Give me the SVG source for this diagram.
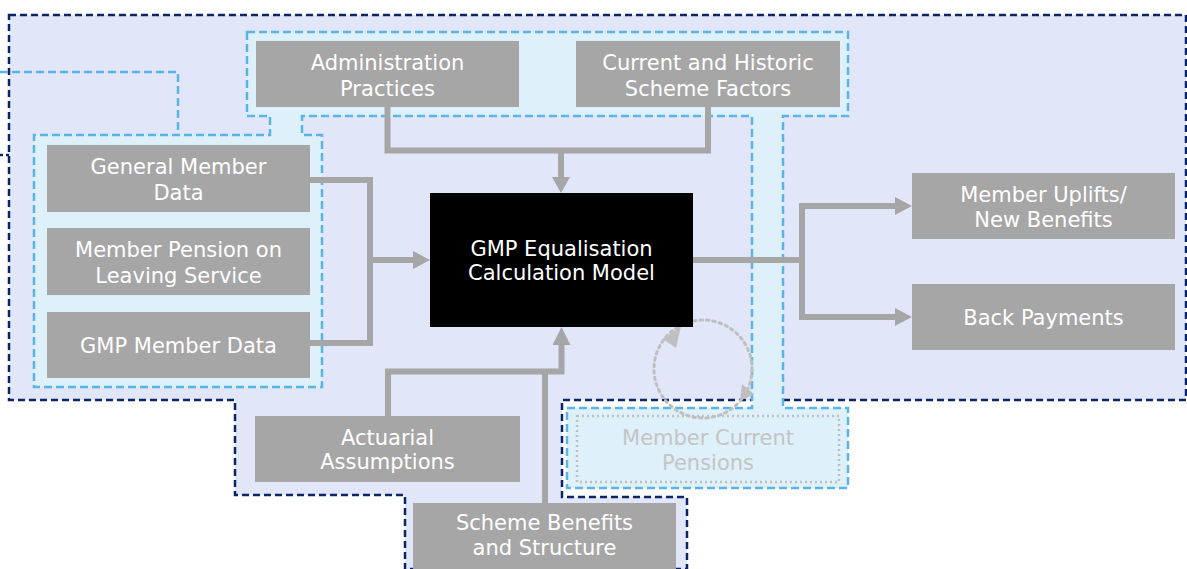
<svg xmlns="http://www.w3.org/2000/svg" width="1187" height="569" viewBox="0 0 1187 569">
<style>
.outer{fill:#e1e7f8;stroke:#0b2466;stroke-width:2.5;stroke-dasharray:7 4}
.inner{fill:#def0fa;stroke:#5bb4e8;stroke-width:2.5;stroke-dasharray:8 4}
.dark{fill:none;stroke:#0b2466;stroke-width:2.5;stroke-dasharray:3 3}
.ldash{fill:none;stroke:#5bb4e8;stroke-width:2.5;stroke-dasharray:8 4}
.box{fill:#a6a6a6}
.t{font-family:"DejaVu Sans",Verdana,sans-serif;font-size:21px;fill:#ffffff;text-anchor:middle}
.tb{font-family:"DejaVu Sans",Verdana,sans-serif;font-size:21px;fill:#ffffff;text-anchor:middle}
.tg{font-family:"DejaVu Sans",Verdana,sans-serif;font-size:21px;fill:#c4c4c4;text-anchor:middle}
.c{fill:none;stroke:#a6a6a6;stroke-width:6}
.ah{fill:#a6a6a6}
.dot{fill:none;stroke:#bfbfbf;stroke-width:3;stroke-dasharray:2.5 4;stroke-linecap:round}
.ahl{fill:#bfbfbf}
</style>
<rect width="1187" height="569" fill="#ffffff"/>
<g id="regions">
<polygon class="outer" points="9,15 1186,15 1186,400 562,400 562,497 687,497 687,569 405,569 405,495 235,495 235,400 9,400"/>
<polygon class="inner" points="247,32 848,32 848,116 783,116 783,408 848,408 848,488 567,488 567,408 752,408 752,116 302,116 302,135 322,135 322,387 34,387 34,135 270,135 270,116 247,116"/>
<polyline class="ldash" points="0,72 178,72 178,135"/>
<polyline class="dark" points="0,155 9,155"/>
</g>
<g id="connectors">
<polyline class="c" points="387.5,107 387.5,150.5 708,150.5 708,107"/>
<line class="c" x1="561" y1="150.5" x2="561" y2="178"/>
<polygon class="ah" points="552,177 570,177 561,193"/>
<polyline class="c" points="310,180 370,180 370,343 310,343"/>
<line class="c" x1="370" y1="260" x2="414" y2="260"/>
<polygon class="ah" points="413,251 413,269 430,260"/>
<polyline class="c" points="388,416 388,371.5 561.5,371.5 561.5,344"/>
<polygon class="ah" points="552.5,345 570.5,345 561.5,327"/>
<line class="c" x1="545" y1="503" x2="545" y2="371.5"/>
<line class="c" x1="693" y1="260" x2="805" y2="260"/>
<polyline class="c" points="896,206 802,206 802,317 896,317"/>
<polygon class="ah" points="895,197 895,215 912,206"/>
<polygon class="ah" points="895,308 895,326 912,317"/>
<circle class="dot" cx="703" cy="369" r="49"/>
<polygon class="ahl" points="681,326 663,339 676,348"/>
<polygon class="ahl" points="754,394 742,384 740,401"/>
</g>
<g id="admin"><rect class="box" x="256" y="41" width="263" height="66"/><text class="t" x="387.5" y="70">Administration</text><text class="t" x="387.5" y="96">Practices</text></g>
<g id="factors"><rect class="box" x="576" y="41" width="264" height="66"/><text class="t" x="708" y="70">Current and Historic</text><text class="t" x="708" y="96">Scheme Factors</text></g>
<g id="general"><rect class="box" x="47" y="145" width="263" height="67"/><text class="t" x="178.5" y="174">General Member</text><text class="t" x="178.5" y="200">Data</text></g>
<g id="pension"><rect class="box" x="47" y="228" width="263" height="67"/><text class="t" x="178.5" y="257">Member Pension on</text><text class="t" x="178.5" y="283">Leaving Service</text></g>
<g id="gmpdata"><rect class="box" x="47" y="312" width="263" height="66"/><text class="t" x="178.5" y="353">GMP Member Data</text></g>
<g id="model"><rect x="430" y="193" width="263" height="134" fill="#000000"/><text class="tb" x="561.5" y="256">GMP Equalisation</text><text class="tb" x="561.5" y="280">Calculation Model</text></g>
<g id="uplifts"><rect class="box" x="912" y="173" width="263" height="66"/><text class="t" x="1043.5" y="202">Member Uplifts/</text><text class="t" x="1043.5" y="227">New Benefits</text></g>
<g id="backpay"><rect class="box" x="912" y="284" width="263" height="66"/><text class="t" x="1043.5" y="325">Back Payments</text></g>
<g id="actuarial"><rect class="box" x="255" y="416" width="265" height="66"/><text class="t" x="387.5" y="445">Actuarial</text><text class="t" x="387.5" y="469">Assumptions</text></g>
<g id="scheme"><rect class="box" x="413" y="503" width="263" height="66"/><text class="t" x="544.5" y="530">Scheme Benefits</text><text class="t" x="544.5" y="555">and Structure</text></g>
<g id="current"><rect x="577" y="416" width="262" height="66" fill="none" stroke="#bfbfbf" stroke-width="2.5" stroke-dasharray="2 3"/><text class="tg" x="708" y="445">Member Current</text><text class="tg" x="708" y="470">Pensions</text></g>
</svg>
